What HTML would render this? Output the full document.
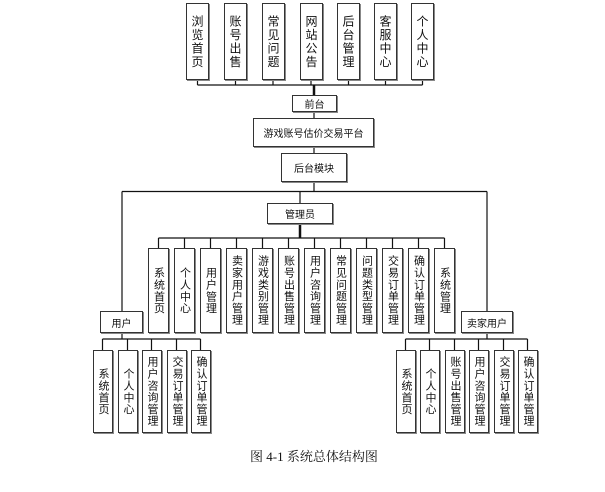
<!DOCTYPE html>
<html><head><meta charset="utf-8"><style>
body{margin:0;width:605px;height:492px;background:#fff;position:relative;overflow:hidden;font-family:"Liberation Sans","Noto Sans CJK SC",sans-serif;color:#111}
.b{position:absolute;border:1.5px solid #333;box-sizing:border-box;display:flex;align-items:center;justify-content:center;background:#fff;box-shadow:1px 1px 0 #888}
.v{writing-mode:vertical-rl;text-orientation:upright;white-space:nowrap}
.t{font-size:12px;letter-spacing:1.5px}
.m{font-size:11px;letter-spacing:0.8px}
.h{font-size:10px}
svg{position:absolute;left:0;top:0}
</style></head><body>
<svg width="605" height="492" stroke="#111" stroke-width="1.2" fill="none">
<path d="M197.5 85H422.5M197.5 80V85M235.5 80V85M273 80V85M311 80V85M348.5 80V85M385.5 80V85M422.5 80V85"/>
<path d="M314 85V95" stroke-width="2.5"/>
<path d="M314 112V118M314 147V153M314 182V192"/>
<path d="M122 191.5H487M300 191.5V203M122 191.5V311M487 191.5V311"/>
<path d="M300 224V238" stroke-width="2.5"/>
<path d="M158.5 238H444.5M158.5 238V248M184.5 238V248M210.5 238V248M236.5 238V248M262.5 238V248M288.5 238V248M314.5 238V248M340.5 238V248M366.5 238V248M392.5 238V248M418.5 238V248M444.5 238V248"/>
<path d="M122 333V339M102.5 339H200.5M102.5 339V350M127.5 339V350M151.5 339V350M176.5 339V350M200.5 339V350"/>
<path d="M487 333V339M405.5 339H527.5M405.5 339V350M429.5 339V350M454.5 339V350M478.5 339V350M503.5 339V350M527.5 339V350"/>
</svg>

<div class="b" style="left:186px;top:3px;width:23px;height:77px"><span class="v t">浏览首页</span></div>
<div class="b" style="left:224px;top:3px;width:23px;height:77px"><span class="v t">账号出售</span></div>
<div class="b" style="left:262px;top:3px;width:23px;height:77px"><span class="v t">常见问题</span></div>
<div class="b" style="left:300px;top:3px;width:23px;height:77px"><span class="v t">网站公告</span></div>
<div class="b" style="left:337px;top:3px;width:23px;height:77px"><span class="v t">后台管理</span></div>
<div class="b" style="left:374px;top:3px;width:23px;height:77px"><span class="v t">客服中心</span></div>
<div class="b" style="left:411px;top:3px;width:23px;height:77px"><span class="v t">个人中心</span></div>

<div class="b h" style="left:292px;top:95px;width:45px;height:17px">前台</div>
<div class="b h" style="left:253px;top:118px;width:121px;height:29px">游戏账号估价交易平台</div>
<div class="b h" style="left:281px;top:153px;width:66px;height:29px">后台模块</div>
<div class="b h" style="left:267px;top:203px;width:66px;height:21px">管理员</div>

<div class="b" style="left:148px;top:248px;width:21px;height:85px"><span class="v m">系统首页</span></div>
<div class="b" style="left:174px;top:248px;width:21px;height:85px"><span class="v m">个人中心</span></div>
<div class="b" style="left:200px;top:248px;width:21px;height:85px"><span class="v m">用户管理</span></div>
<div class="b" style="left:226px;top:248px;width:21px;height:85px"><span class="v m">卖家用户管理</span></div>
<div class="b" style="left:252px;top:248px;width:21px;height:85px"><span class="v m">游戏类别管理</span></div>
<div class="b" style="left:278px;top:248px;width:21px;height:85px"><span class="v m">账号出售管理</span></div>
<div class="b" style="left:304px;top:248px;width:21px;height:85px"><span class="v m">用户咨询管理</span></div>
<div class="b" style="left:330px;top:248px;width:21px;height:85px"><span class="v m">常见问题管理</span></div>
<div class="b" style="left:356px;top:248px;width:21px;height:85px"><span class="v m">问题类型管理</span></div>
<div class="b" style="left:382px;top:248px;width:21px;height:85px"><span class="v m">交易订单管理</span></div>
<div class="b" style="left:408px;top:248px;width:21px;height:85px"><span class="v m">确认订单管理</span></div>
<div class="b" style="left:434px;top:248px;width:21px;height:85px"><span class="v m">系统管理</span></div>

<div class="b h" style="left:100px;top:311px;width:43px;height:22px">用户</div>
<div class="b h" style="left:461px;top:311px;width:52px;height:22px">卖家用户</div>

<div class="b" style="left:93px;top:350px;width:20px;height:83px"><span class="v m">系统首页</span></div>
<div class="b" style="left:118px;top:350px;width:20px;height:83px"><span class="v m">个人中心</span></div>
<div class="b" style="left:142px;top:350px;width:20px;height:83px"><span class="v m">用户咨询管理</span></div>
<div class="b" style="left:167px;top:350px;width:20px;height:83px"><span class="v m">交易订单管理</span></div>
<div class="b" style="left:191px;top:350px;width:20px;height:83px"><span class="v m">确认订单管理</span></div>

<div class="b" style="left:396px;top:350px;width:20px;height:83px"><span class="v m">系统首页</span></div>
<div class="b" style="left:420px;top:350px;width:20px;height:83px"><span class="v m">个人中心</span></div>
<div class="b" style="left:445px;top:350px;width:20px;height:83px"><span class="v m">账号出售管理</span></div>
<div class="b" style="left:469px;top:350px;width:20px;height:83px"><span class="v m">用户咨询管理</span></div>
<div class="b" style="left:494px;top:350px;width:20px;height:83px"><span class="v m">交易订单管理</span></div>
<div class="b" style="left:518px;top:350px;width:20px;height:83px"><span class="v m">确认订单管理</span></div>

<div style="position:absolute;left:250px;top:446px;width:140px;font-family:'Liberation Serif','Noto Serif CJK SC',serif;font-size:13px;white-space:nowrap">图 4-1 系统总体结构图</div>
</body></html>
